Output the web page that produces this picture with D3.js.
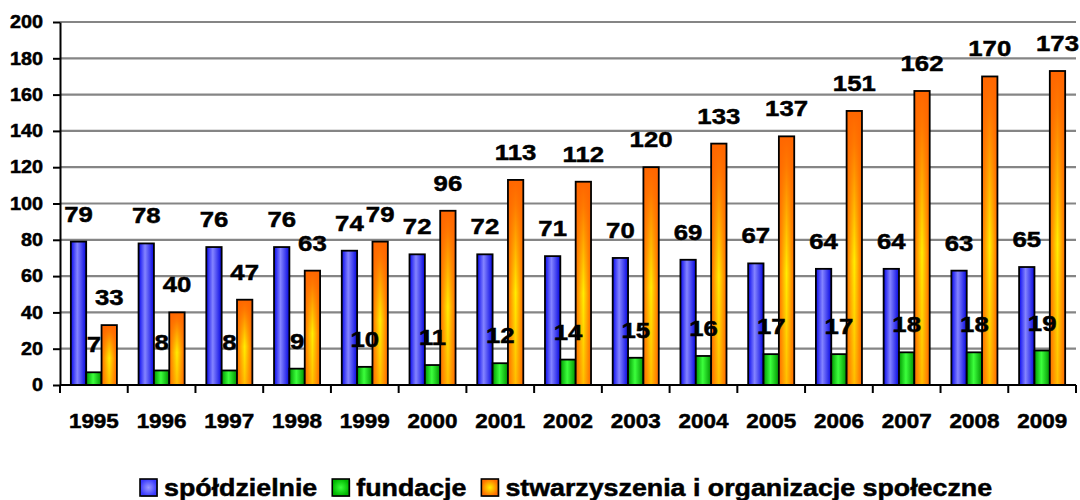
<!DOCTYPE html>
<html>
<head>
<meta charset="utf-8">
<script src="https://cdn.jsdelivr.net/npm/d3@7"></script>
<style>
  body { margin: 0; background: #fff; }
  svg text { font-family: "Liberation Sans", Arial, sans-serif; font-weight: bold; fill: #000;
             stroke: #000; stroke-width: 0.5px; }
</style>
</head>
<body>
<svg id="chart" width="1080" height="500"></svg>
<script>
// data
const years = ["1995","1996","1997","1998","1999","2000","2001","2002","2003","2004","2005","2006","2007","2008","2009"];
const spoldzielnie = [79,78,76,76,74,72,72,71,70,69,67,64,64,63,65];
const fundacje = [7,8,8,9,10,11,12,14,15,16,17,17,18,18,19];
const stowarzyszenia = [33,40,47,63,79,96,113,112,120,133,137,151,162,170,173];
const seriesNames = ["spółdzielnie", "fundacje", "stwarzyszenia i organizacje społeczne"];
const yTicks = [0,20,40,60,80,100,120,140,160,180,200];

const series = [spoldzielnie, fundacje, stowarzyszenia];
const gradIds = ["gBlue", "gGreen", "gOrange"];

const svg = d3.select("#chart");
const margins = {top: 22, right: 4, bottom: 115, left: 60};
const chartWidth = svg.attr("width") - margins.left - margins.right;
const chartHeight = svg.attr("height") - margins.top - margins.bottom;

// gradients
const defs = svg.append("defs");
function hGrad(id, stops) {
  const g = defs.append("linearGradient").attr("id", id)
    .attr("x1", "0%").attr("x2", "100%").attr("y1", "0%").attr("y2", "0%");
  stops.forEach(s => g.append("stop").attr("offset", s[0]).attr("stop-color", s[1]));
}
hGrad("gBlue", [[0, "#0808ee"], [0.42, "#8484ff"], [1, "#0606e0"]]);
hGrad("gGreen", [[0, "#009800"], [0.45, "#3cff3c"], [1, "#009200"]]);
hGrad("gOrange", [[0, "#ff6a00"], [0.5, "#ffee00"], [1, "#ff6400"]]);
const ov = defs.append("linearGradient").attr("id", "gOrangeTop")
  .attr("x1", "0%").attr("x2", "0%").attr("y1", "0%").attr("y2", "100%");
ov.append("stop").attr("offset", 0).attr("stop-color", "#ff6600").attr("stop-opacity", 1);
ov.append("stop").attr("offset", 0.12).attr("stop-color", "#ff6600").attr("stop-opacity", 0.85);
ov.append("stop").attr("offset", 0.55).attr("stop-color", "#ff6600").attr("stop-opacity", 0);
ov.append("stop").attr("offset", 1).attr("stop-color", "#ff6600").attr("stop-opacity", 0.35);
function rGrad(id, c0, c1) {
  const g = defs.append("radialGradient").attr("id", id);
  g.append("stop").attr("offset", 0).attr("stop-color", c0);
  g.append("stop").attr("offset", 1).attr("stop-color", c1);
}
rGrad("gLegBlue", "#9a9aff", "#3a3aff");
rGrad("gLegGreen", "#3cff3c", "#00b800");
rGrad("gLegOrange", "#ffee00", "#ff7000");

// scales
const x0 = d3.scaleBand().domain(years).range([0, chartWidth]).padding(0);
const bw = x0.bandwidth();
const x1 = d3.scaleBand().domain(d3.range(3)).range([bw * 0.16, bw * 0.84]).padding(0);
const y = d3.scaleLinear().domain([0, 200]).range([chartHeight, 0]);

const chartArea = svg.append("g").attr("transform", `translate(${margins.left},${margins.top})`);

// horizontal gridlines
chartArea.append("g")
  .selectAll("line")
  .data(yTicks.filter(t => t > 0))
  .join("line")
  .attr("x1", 0).attr("x2", chartWidth)
  .attr("y1", d => y(d)).attr("y2", d => y(d))
  .attr("stroke", "#858585").attr("stroke-width", 2.2);

// bars
const groups = chartArea.selectAll("g.year")
  .data(years)
  .join("g")
  .attr("class", "year")
  .attr("transform", d => `translate(${x0(d)},0)`);

groups.each(function(yr, i) {
  const g = d3.select(this);
  series.forEach((s, k) => {
    g.append("rect")
      .attr("x", x1(k)).attr("width", x1.bandwidth())
      .attr("y", y(s[i])).attr("height", chartHeight - y(s[i]))
      .attr("fill", `url(#${gradIds[k]})`);
    if (k === 2) {
      g.append("rect")
        .attr("x", x1(k)).attr("width", x1.bandwidth())
        .attr("y", y(s[i])).attr("height", chartHeight - y(s[i]))
        .attr("fill", "url(#gOrangeTop)");
    }
    g.append("rect")
      .attr("x", x1(k)).attr("width", x1.bandwidth())
      .attr("y", y(s[i])).attr("height", chartHeight - y(s[i]))
      .attr("fill", "none").attr("stroke", "#000").attr("stroke-width", 1.8);
  });
});

// y axis
const SXY = 1.1;
const leftAxis = d3.axisLeft(y).tickValues(yTicks).tickSize(7).tickSizeOuter(0).tickPadding(10);
const yAx = chartArea.append("g").call(leftAxis);
yAx.attr("font-family", null).attr("font-size", null);
yAx.select(".domain").attr("stroke", "#000").attr("stroke-width", 2);
yAx.selectAll(".tick line").attr("stroke", "#000").attr("stroke-width", 2);
yAx.selectAll(".tick text")
  .style("font-size", "18px")
  .attr("x", -17 / SXY)
  .attr("transform", `scale(${SXY},1)`);

// x axis line + ticks at category borders
chartArea.append("line")
  .attr("x1", 0).attr("x2", chartWidth)
  .attr("y1", chartHeight).attr("y2", chartHeight)
  .attr("stroke", "#000").attr("stroke-width", 2);
chartArea.append("g")
  .selectAll("line")
  .data(d3.range(years.length + 1))
  .join("line")
  .attr("x1", i => x0.step() * i).attr("x2", i => x0.step() * i)
  .attr("y1", chartHeight).attr("y2", chartHeight + 8)
  .attr("stroke", "#000").attr("stroke-width", 2);

const bottomAxis = d3.axisBottom(x0).tickSize(0).tickPadding(28);
const xAx = chartArea.append("g").attr("transform", `translate(0,${chartHeight})`).call(bottomAxis);
xAx.attr("font-family", null).attr("font-size", null);
xAx.select(".domain").remove();
xAx.selectAll(".tick text")
  .style("font-size", "21px")
  .attr("transform", "scale(1.07,1)");

// value labels
groups.each(function(yr, i) {
  const g = d3.select(this);
  series.forEach((s, k) => {
    const cx = x1(k) + x1.bandwidth() / 2;
    g.append("text")
      .attr("transform", `translate(${cx},${y(s[i]) - 20}) scale(1.12,1)`)
      .attr("text-anchor", "middle")
      .style("font-size", "23px")
      .text(s[i]);
  });
});

// legend
const legendFills = ["url(#gLegBlue)", "url(#gLegGreen)", "url(#gLegOrange)"];
const legend = svg.append("g").attr("transform", "translate(140,479)");
let lx = 0;
seriesNames.forEach((name, k) => {
  legend.append("rect")
    .attr("x", lx + 1).attr("y", 1).attr("width", 17).attr("height", 17)
    .attr("fill", "#999");
  legend.append("rect")
    .attr("x", lx).attr("y", 0).attr("width", 17).attr("height", 17)
    .attr("fill", legendFills[k]).attr("stroke", "#000").attr("stroke-width", 1.6);
  const t = legend.append("text")
    .attr("transform", `translate(${lx + 24},17) scale(1.14,1)`)
    .style("font-size", "23.5px")
    .text(name);
  lx += 24 + t.node().getComputedTextLength() * 1.14 + 15;
});
</script>
</body>
</html>
